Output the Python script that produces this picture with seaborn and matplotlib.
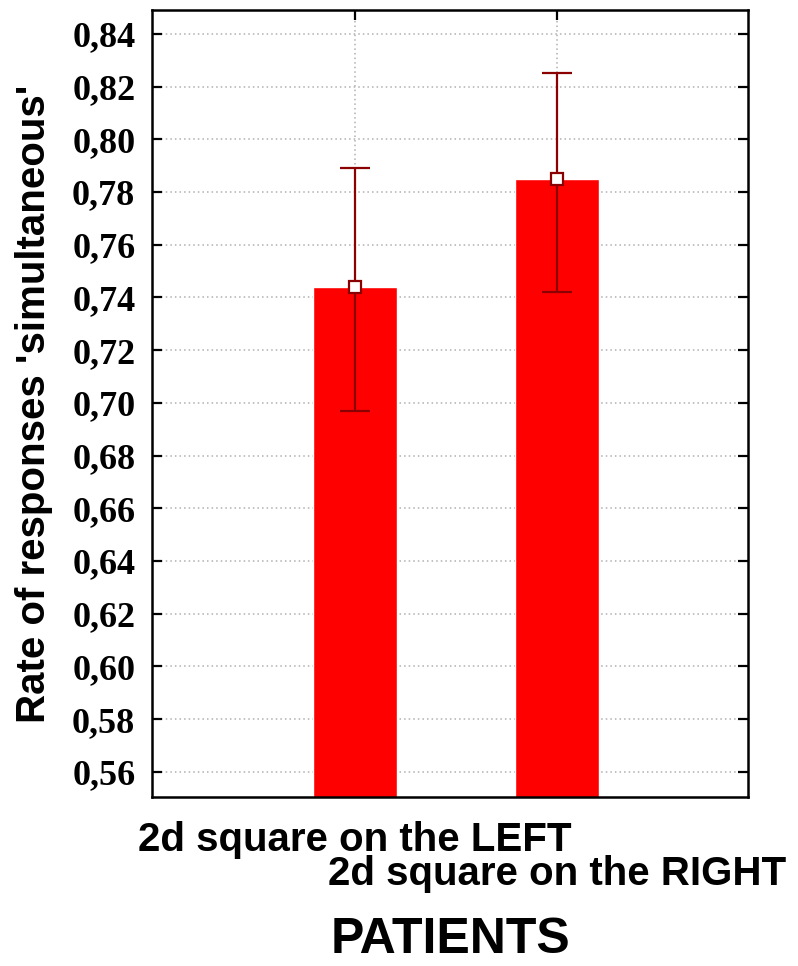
import matplotlib
matplotlib.use("Agg")
import matplotlib.pyplot as plt
import pandas as pd
import seaborn as sns

# values
conditions = ["2d square on the LEFT", "2d square on the RIGHT"]
means = [0.744, 0.785]
lower = [0.697, 0.742]
upper = [0.789, 0.825]
yticks = [0.56, 0.58, 0.60, 0.62, 0.64, 0.66, 0.68, 0.70, 0.72, 0.74, 0.76, 0.78, 0.80, 0.82, 0.84]

df = pd.DataFrame({"condition": conditions, "rate": means})

sns.set_style("white")
plt.rcParams["font.family"] = ["Liberation Sans", "DejaVu Sans"]

fig = plt.figure(figsize=(7.98, 9.66), dpi=100)
ax = fig.add_axes([0.1905, 0.175, 0.747, 0.8145])

sns.barplot(x="condition", y="rate", data=df, color="#ff0000", saturation=1,
            width=0.415, errorbar=None, ax=ax, zorder=2)

# error bars (confidence interval) with square markers
yerr = [[m - lo for m, lo in zip(means, lower)], [up - m for m, up in zip(means, upper)]]
ax.errorbar(range(len(conditions)), means, yerr=yerr, fmt="s", color="#8b0000",
            ecolor="#8b0000", elinewidth=1.6, capsize=11, capthick=1.6,
            markersize=8, markerfacecolor="white", markeredgecolor="#8b0000",
            markeredgewidth=1.6, zorder=4)

ax.set_xlim(-1.005, 1.945)
ax.set_ylim(0.5505, 0.849)
ax.set_yticks(yticks)
ax.set_yticklabels([f"{t:.2f}".replace(".", ",") for t in yticks],
                   fontfamily="Liberation Serif", fontweight="bold", fontsize=26)

# first category on major tick, second on a minor tick so its label can sit lower
ax.set_xticks([0])
ax.set_xticklabels([conditions[0]], fontweight="bold", fontsize=29)
ax.set_xticks([1], minor=True)
ax.set_xticklabels([conditions[1]], minor=True, fontweight="bold", fontsize=29)

ax.grid(True, axis="both", which="both", color="#b0b0b0", linestyle=(0, (1, 2)),
        linewidth=1.1, zorder=0)
ax.set_axisbelow(True)

ax.tick_params(axis="both", which="both", direction="in", length=7, width=1.6, color="black",
               top=True, right=True, bottom=True, left=True, labelcolor="black")
ax.tick_params(axis="x", which="major", pad=17)
ax.tick_params(axis="x", which="minor", pad=42)
ax.tick_params(axis="y", pad=12)
for s in ax.spines.values():
    s.set_visible(True)
    s.set_color("black")
    s.set_linewidth(1.8)

ax.set_ylabel("Rate of responses 'simultaneous'", fontweight="bold", fontsize=29,
              labelpad=14, color="black")
ax.set_xlabel("PATIENTS", fontweight="bold", fontsize=36, color="black")
ax.xaxis.set_label_coords(0.5, -0.152)

fig.savefig("out.png", dpi=100)
